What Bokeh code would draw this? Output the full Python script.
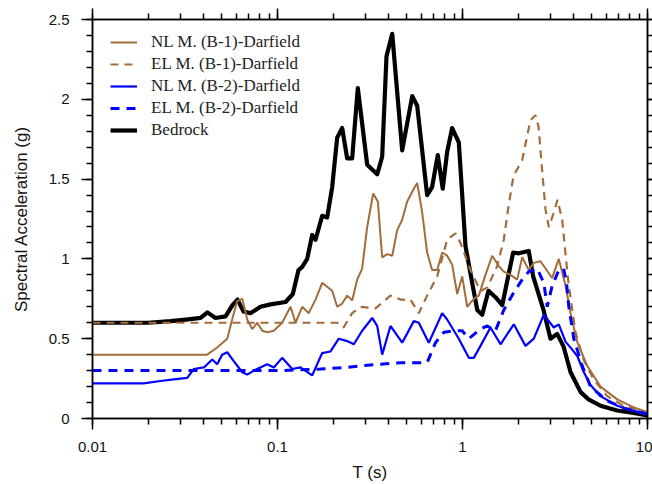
from bokeh.plotting import figure
from bokeh.models import (LinearAxis, LogAxis, LogTicker, SingleIntervalTicker,
                          NumeralTickFormatter, Legend, LegendItem)
from bokeh.embed import file_html
from bokeh.resources import INLINE

# ---------------- data (T in s, Sa in g) ----------------
t_bedrock = [0.01, 0.02, 0.0264, 0.032, 0.0384, 0.0418, 0.0462, 0.0524, 0.0571, 0.0608,
             0.0655, 0.0714, 0.0809, 0.0916, 0.1105, 0.121, 0.1299, 0.136, 0.1447, 0.154,
             0.1605, 0.1744, 0.1856, 0.1975, 0.2102, 0.2237, 0.238, 0.2533, 0.2717, 0.3054,
             0.3458, 0.368, 0.3883, 0.417, 0.472, 0.535, 0.569, 0.644, 0.685, 0.735,
             0.782, 0.826, 0.879, 0.955, 1.038, 1.104, 1.201, 1.278, 1.382, 1.507,
             1.64, 1.78, 1.879, 2.014, 2.28, 2.41, 2.74, 2.99, 3.25, 3.52,
             3.84, 4.35, 4.80, 5.57, 6.86, 8.40, 10.0]
sa_bedrock = [0.60, 0.60, 0.61, 0.62, 0.63, 0.665, 0.63, 0.64, 0.71, 0.745,
              0.67, 0.66, 0.70, 0.715, 0.73, 0.78, 0.93, 0.95, 1.00, 1.15,
              1.12, 1.27, 1.26, 1.45, 1.76, 1.82, 1.63, 1.63, 2.07, 1.59,
              1.53, 1.64, 2.27, 2.41, 1.68, 2.02, 1.96, 1.40, 1.45, 1.65,
              1.44, 1.67, 1.82, 1.73, 1.08, 0.91, 0.68, 0.65, 0.80, 0.76,
              0.71, 0.91, 1.04, 1.035, 1.05, 0.89, 0.68, 0.50, 0.53, 0.45,
              0.29, 0.165, 0.12, 0.08, 0.05, 0.035, 0.02]

t_nl_b1 = [0.01, 0.0417, 0.0472, 0.0535, 0.0569, 0.0605, 0.0645, 0.0686, 0.073, 0.0777,
           0.0827, 0.088, 0.0955, 0.106, 0.1176, 0.1251, 0.136, 0.1476, 0.1605, 0.1744,
           0.1975, 0.2102, 0.2237, 0.238, 0.2533, 0.2696, 0.2869, 0.3054, 0.329, 0.3485,
           0.368, 0.3917, 0.417, 0.4436, 0.472, 0.5024, 0.5455, 0.569, 0.6056, 0.644,
           0.685, 0.7297, 0.7767, 0.826, 0.879, 0.9363, 0.9963, 1.06, 1.151, 1.225,
           1.331, 1.447, 1.571, 1.672, 1.818, 1.975, 2.102, 2.28, 2.429, 2.64,
           2.81, 3.05, 3.315, 3.61, 3.835, 4.17, 4.72, 5.57, 6.86, 8.43, 10.0]
sa_nl_b1 = [0.40, 0.40, 0.445, 0.50, 0.62, 0.735, 0.75, 0.62, 0.56, 0.60,
            0.55, 0.54, 0.55, 0.60, 0.70, 0.60, 0.70, 0.66, 0.745, 0.85,
            0.80, 0.70, 0.72, 0.77, 0.74, 0.87, 0.94, 1.20, 1.41, 1.36,
            1.01, 1.03, 1.02, 1.18, 1.245, 1.36, 1.44, 1.475, 1.29, 1.04,
            0.93, 0.93, 1.04, 1.02, 0.965, 0.78, 0.89, 0.70, 0.75, 0.77,
            0.90, 1.02, 0.955, 0.92, 0.90, 0.87, 1.01, 0.93, 0.975, 0.985,
            0.94, 0.88, 1.00, 0.83, 0.66, 0.48, 0.33, 0.20, 0.12, 0.07, 0.04]

t_el_b1 = [0.01, 0.21, 0.2275, 0.2533, 0.281, 0.3386, 0.408, 0.4623, 0.5236, 0.5804,
           0.644, 0.7297, 0.826, 0.9167, 0.9754, 1.104, 1.251, 1.36, 1.54, 1.672,
           1.773, 1.887, 2.102, 2.331, 2.482, 2.576, 2.697, 2.81, 2.928, 3.115,
           3.262, 3.459, 3.61, 3.741, 3.92, 4.08, 4.51, 5.11, 6.06, 7.42, 10.0]
sa_el_b1 = [0.60, 0.60, 0.57, 0.66, 0.70, 0.69, 0.77, 0.745, 0.745, 0.66,
            0.77, 0.89, 1.12, 1.16, 1.10, 0.93, 0.80, 0.82, 0.955, 1.12,
            1.33, 1.52, 1.62, 1.87, 1.90, 1.83, 1.55, 1.31, 1.20, 1.29,
            1.37, 1.245, 1.02, 0.85, 0.68, 0.54, 0.37, 0.245, 0.14, 0.08, 0.04]

t_nl_b2 = [0.01, 0.0189, 0.0233, 0.0275, 0.0325, 0.0353, 0.04, 0.0444, 0.0472, 0.0502,
           0.0535, 0.058, 0.0645, 0.0686, 0.0745, 0.088, 0.0955, 0.106, 0.1201, 0.1331,
           0.154, 0.1744, 0.1934, 0.2145, 0.238, 0.2585, 0.2869, 0.325, 0.3458, 0.368,
           0.408, 0.472, 0.5455, 0.5804, 0.6574, 0.7767, 0.826, 0.955, 1.082, 1.151,
           1.251, 1.417, 1.605, 1.894, 2.19, 2.429, 2.751, 3.115, 3.315, 3.61,
           3.93, 4.18, 4.53, 4.92, 5.57, 6.86, 8.43, 10.0]
sa_nl_b2 = [0.22, 0.22, 0.235, 0.245, 0.255, 0.31, 0.32, 0.37, 0.34, 0.40,
            0.415, 0.36, 0.29, 0.275, 0.30, 0.34, 0.32, 0.38, 0.31, 0.32,
            0.27, 0.41, 0.42, 0.50, 0.485, 0.465, 0.55, 0.63, 0.58, 0.40,
            0.58, 0.475, 0.61, 0.60, 0.475, 0.66, 0.62, 0.50, 0.38, 0.38,
            0.455, 0.57, 0.465, 0.59, 0.455, 0.50, 0.65, 0.57, 0.59, 0.48,
            0.43, 0.39, 0.29, 0.21, 0.14, 0.08, 0.048, 0.03]

t_el_b2 = [0.01, 0.1038, 0.1705, 0.238, 0.281, 0.3604, 0.4623, 0.644, 0.7146, 0.7923,
           0.8974, 0.9963, 1.082, 1.251, 1.36, 1.507, 1.672, 1.894, 2.102, 2.28,
           2.533, 2.751, 2.87, 3.05, 3.315, 3.52, 3.65, 3.755, 3.996, 4.436,
           4.92, 6.06, 7.446, 10.0]
sa_el_b2 = [0.30, 0.30, 0.31, 0.32, 0.33, 0.34, 0.35, 0.35, 0.475, 0.54,
            0.55, 0.55, 0.50, 0.56, 0.58, 0.55, 0.68, 0.79, 0.87, 0.92,
            0.94, 0.85, 0.70, 0.83, 0.93, 0.94, 0.85, 0.70, 0.50, 0.33,
            0.20, 0.11, 0.065, 0.027]

legend_labels = ["NL M. (B-1)-Darfield", "EL M. (B-1)-Darfield",
                 "NL M. (B-2)-Darfield", "EL M. (B-2)-Darfield", "Bedrock"]

# ---------------- figure ----------------
BROWN = "#A36C3B"
BLUE = "#0000FF"
TICK_FONT = "Liberation Sans"

p = figure(width=652, height=484, x_axis_type="log", x_range=(0.01, 10), y_range=(0, 2.5),
           output_backend="svg", toolbar_location=None,
           min_border_left=92, min_border_top=19, min_border_right=5, min_border_bottom=64)
p.xgrid.visible = False
p.ygrid.visible = False
p.outline_line_color = "black"
p.outline_line_width = 1.5
p.background_fill_color = "white"
p.border_fill_color = "white"

r_bed = p.line(t_bedrock, sa_bedrock, line_color="black", line_width=4.2, line_join="round")
r_nl1 = p.line(t_nl_b1, sa_nl_b1, line_color=BROWN, line_width=2)
r_el1 = p.line(t_el_b1, sa_el_b1, line_color=BROWN, line_width=2.2, line_dash="8 6")
r_nl2 = p.line(t_nl_b2, sa_nl_b2, line_color=BLUE, line_width=2.2)
r_el2 = p.line(t_el_b2, sa_el_b2, line_color=BLUE, line_width=3, line_dash="9 7")

yticker = SingleIntervalTicker(interval=0.5, num_minor_ticks=5)
xticker = LogTicker(mantissas=[1], num_minor_ticks=10)


def style_axis(ax, show_labels=True, tick_out=11, minor_out=6):
    ax.axis_line_width = 1.5
    ax.axis_line_color = "black"
    ax.major_tick_line_width = 1.5
    ax.minor_tick_line_width = 1.5
    ax.major_tick_line_color = "black"
    ax.minor_tick_line_color = "black"
    ax.major_tick_in = 0
    ax.major_tick_out = tick_out
    ax.minor_tick_in = 0
    ax.minor_tick_out = minor_out
    if show_labels:
        ax.major_label_text_font = TICK_FONT
        ax.major_label_text_font_size = "15px"
        ax.major_label_text_color = "#111111"
        ax.major_label_standoff = 12
        ax.axis_label_text_font = TICK_FONT
        ax.axis_label_text_font_size = "17px"
        ax.axis_label_text_font_style = "normal"
        ax.axis_label_text_color = "#111111"
    else:
        ax.major_label_text_font_size = "1px"
        ax.major_label_text_alpha = 0
        ax.major_label_standoff = 0


xa = p.xaxis[0]
xa.ticker = xticker
xa.formatter = NumeralTickFormatter(format="0.[00]")
xa.axis_label = "T (s)"
style_axis(xa)
xa.axis_label_standoff = 8

ya = p.yaxis[0]
ya.ticker = yticker
ya.formatter = NumeralTickFormatter(format="0.[0]")
ya.axis_label = "Spectral Acceleration (g)"
style_axis(ya)
ya.axis_label_standoff = 15

top_ax = LogAxis(ticker=xticker)
style_axis(top_ax, show_labels=False)
p.add_layout(top_ax, "above")

right_ax = LinearAxis(ticker=yticker)
style_axis(right_ax, show_labels=False, tick_out=5, minor_out=5)
p.add_layout(right_ax, "right")

legend = Legend(items=[
    LegendItem(label=legend_labels[0], renderers=[r_nl1]),
    LegendItem(label=legend_labels[1], renderers=[r_el1]),
    LegendItem(label=legend_labels[2], renderers=[r_nl2]),
    LegendItem(label=legend_labels[3], renderers=[r_el2]),
    LegendItem(label=legend_labels[4], renderers=[r_bed]),
])
legend.location = (13, 273)
legend.margin = 0
legend.padding = 5
legend.spacing = 2
legend.glyph_width = 27
legend.glyph_height = 20
legend.label_height = 20
legend.label_standoff = 14
legend.label_text_font = "Liberation Serif"
legend.label_text_font_size = "17px"
legend.label_text_color = "#222222"
legend.border_line_alpha = 0
legend.background_fill_alpha = 0
p.add_layout(legend, "center")

open("out.html", "w").write(file_html(p, INLINE))
